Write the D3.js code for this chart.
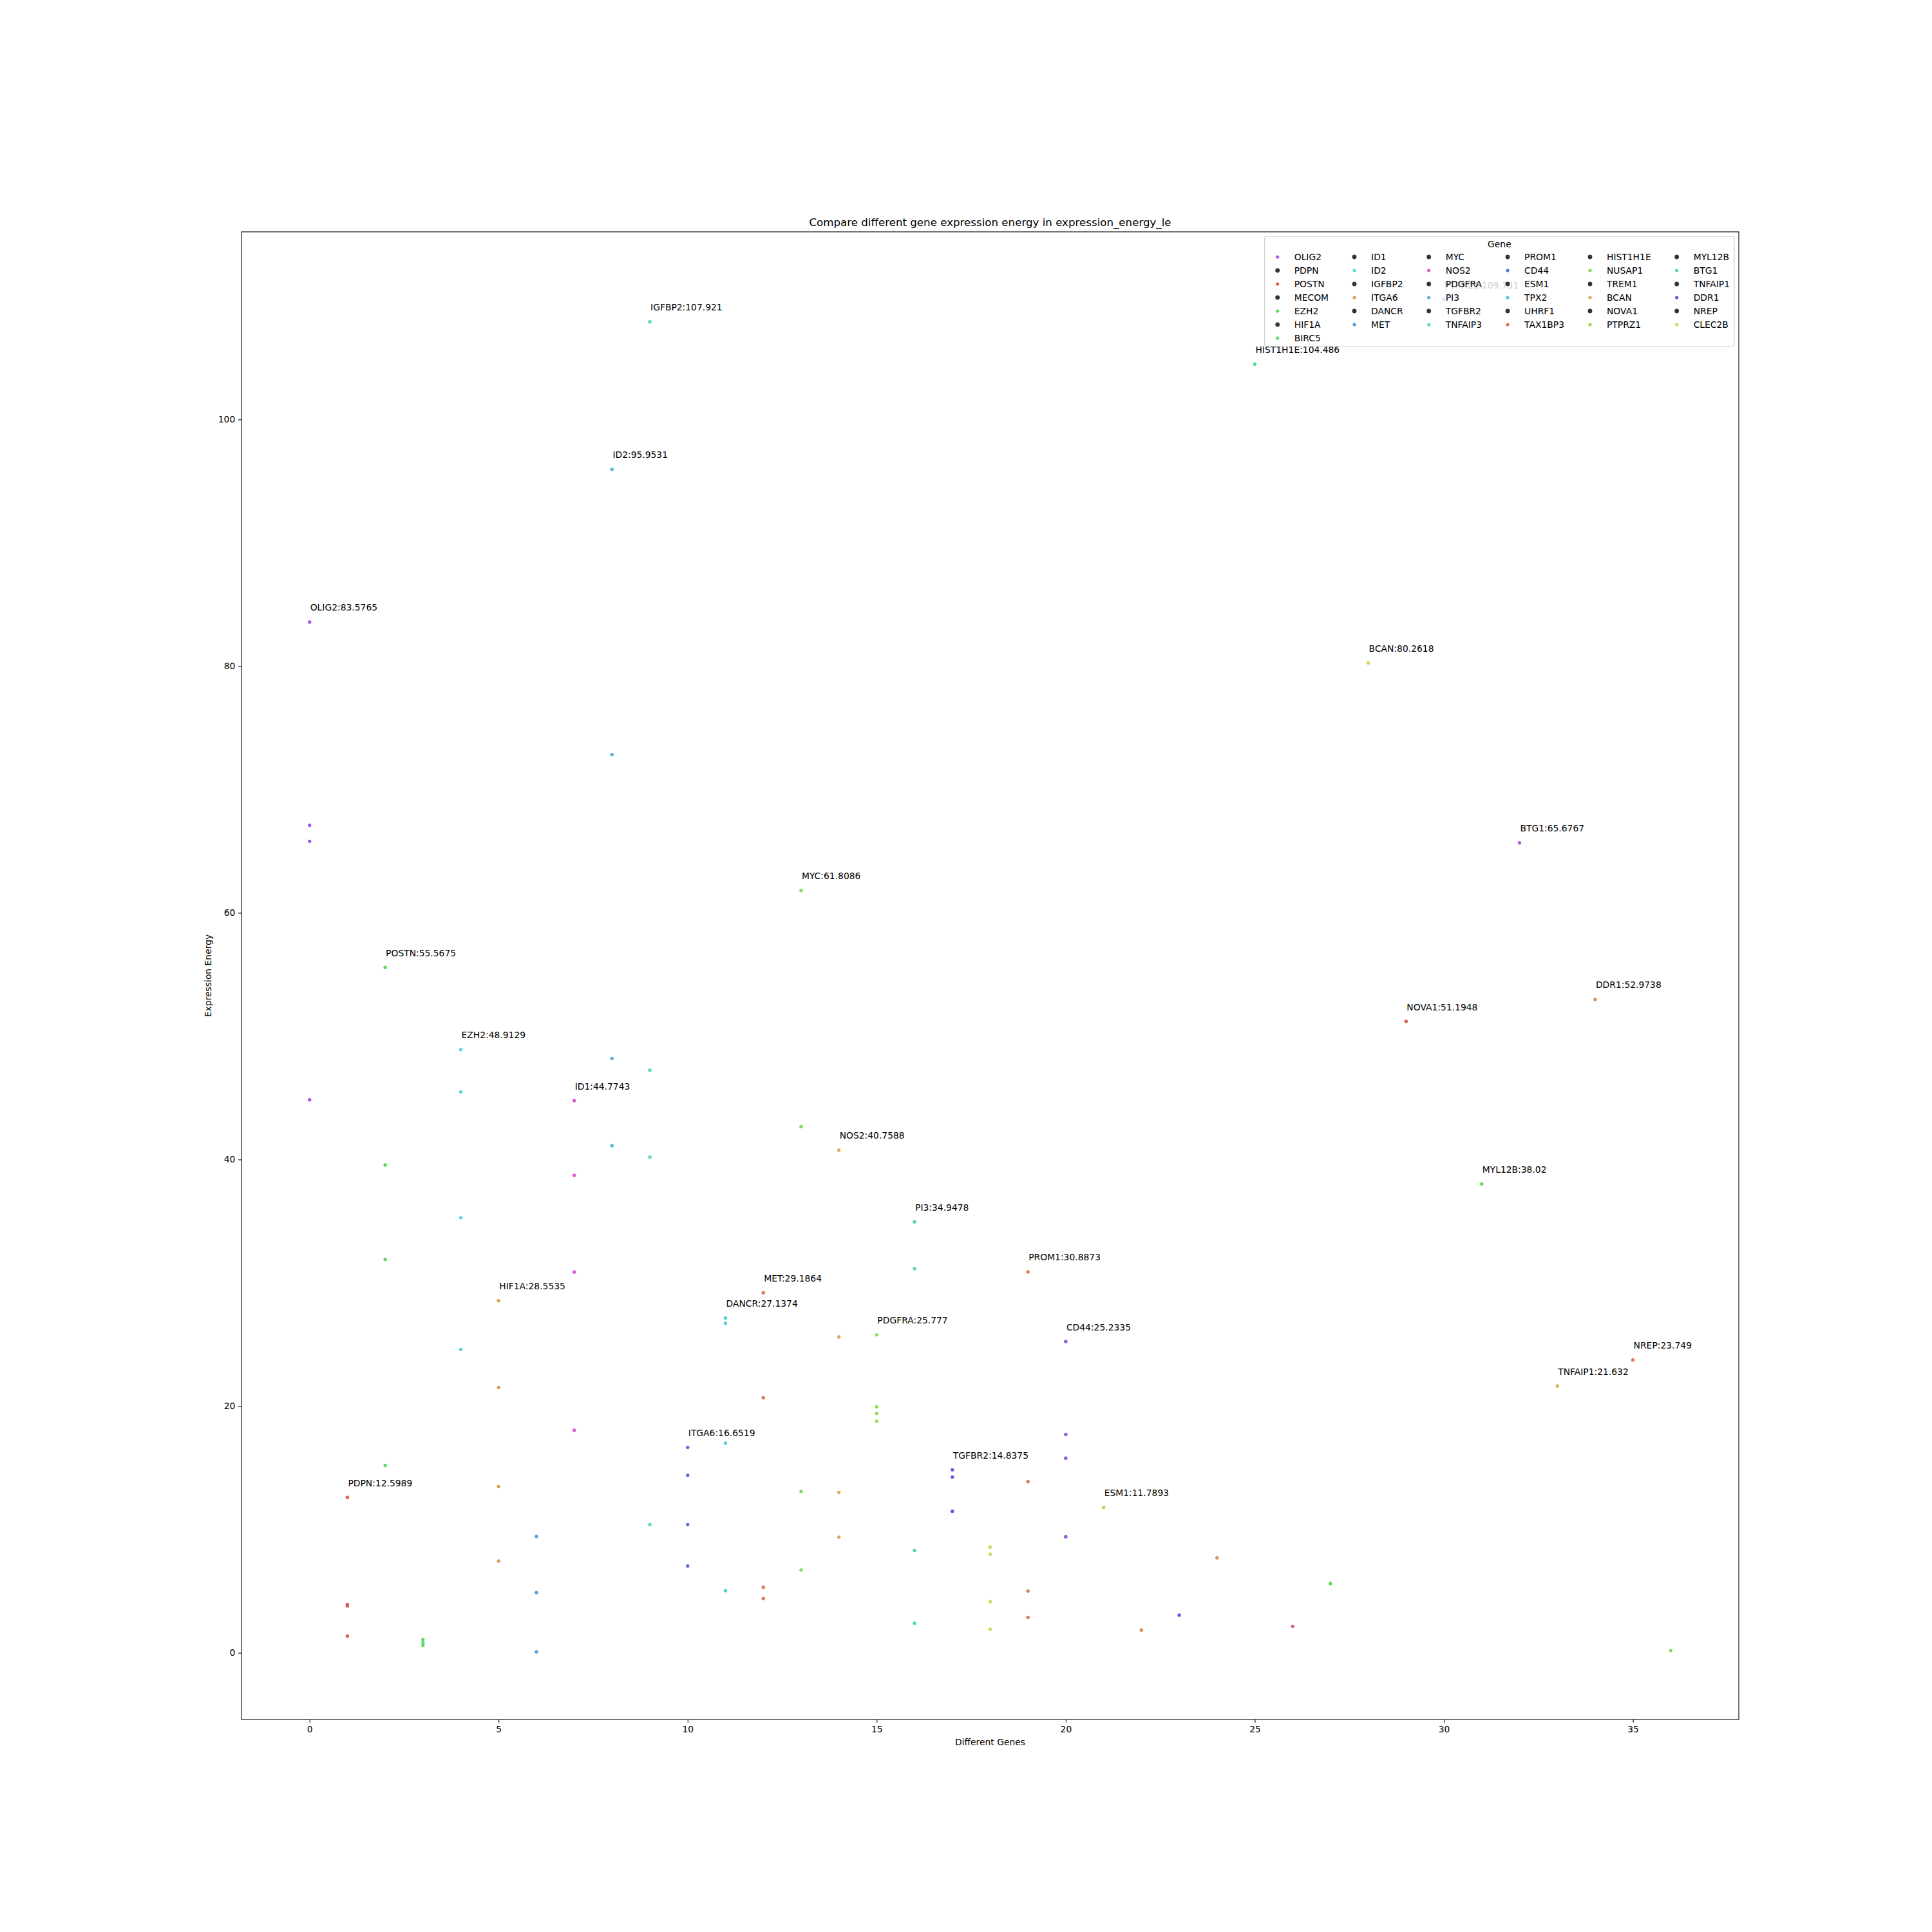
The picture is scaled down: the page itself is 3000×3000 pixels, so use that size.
<!DOCTYPE html>
<html>
<head>
<meta charset="utf-8">
<script src="https://cdn.jsdelivr.net/npm/d3@7"></script>
<style>
  body { margin: 0; background: #fff; }
  svg text { font-family: "DejaVu Sans", sans-serif; }
</style>
</head>
<body>
<svg id="chart" width="3000" height="3000"></svg>
<script>
// ---------------- data ----------------
const genes = ["OLIG2","PDPN","POSTN","MECOM","EZH2","HIF1A","BIRC5","ID1","ID2","IGFBP2",
  "ITGA6","DANCR","MET","MYC","NOS2","PDGFRA","PI3","TGFBR2","TNFAIP3","PROM1","CD44","ESM1",
  "TPX2","UHRF1","TAX1BP3","HIST1H1E","NUSAP1","TREM1","BCAN","NOVA1","PTPRZ1","MYL12B","BTG1",
  "TNFAIP1","DDR1","NREP","CLEC2B"];

// hue (degrees) of each gene's points, seaborn "hls" style palette
const geneHue = [276,3.6,120,132,176,33,208,305,198,169,227,188,16,100,38,91,150,247,68,18,
  266,81,23,237,25,145,344,118,55,2,252,112,286,42,25,18,100];

// legend marker hue per legend entry (null = dark default marker)
const legendHue = [276,null,3.6,null,120,null,132,null,176,null,33,null,208,null,305,null,198,null,
  169,null,227,null,188,null,16,null,100,null,38,null,91,null,150,null,247,null,68];

// each point: gene index and expression energy
const pointGene = [
  0,0,0,0, 1,1,1,1, 2,2,2,2, 3,3,3, 4,4,4,4, 5,5,5,5, 6,6,6, 7,7,7,7, 8,8,8,8, 9,9,9,9,
  10,10,10,10, 11,11,11,11, 12,12,12,12, 13,13,13,13, 14,14,14,14, 15,15,15,15, 16,16,16,16,
  17,17,17, 18,18,18,18, 19,19,19,19, 20,20,20,20, 21, 22, 23, 24, 25, 26, 27, 28, 29, 30,
  31, 32, 33, 34, 35, 36];
const pointEnergy = [
  83.5765,67.1,65.8,44.84,
  12.5989,3.92,3.80,1.36,
  55.5675,39.56,31.9,15.2,
  1.08,0.84,0.6,
  48.9129,45.48,35.28,24.6,
  28.5535,21.52,13.48,7.44,
  9.44,4.88,0.08,
  44.7743,38.72,30.88,18.04,
  95.9531,72.83,48.2,41.12,
  107.921,47.24,40.2,10.4,
  16.6519,14.4,10.4,7.04,
  27.1374,26.72,17.0,5.04,
  29.1864,20.68,5.32,4.4,
  61.8086,42.66,13.08,6.72,
  40.7588,25.61,13.01,9.38,
  25.777,19.95,19.41,18.78,
  34.9478,31.15,8.31,2.41,
  14.8375,14.25,11.48,
  8.58,8.01,4.15,1.91,
  30.8873,13.88,5.01,2.88,
  25.2335,17.71,15.78,9.41,
  11.7893, 1.84, 3.06, 7.70, 104.486, 2.15, 5.62, 80.2618, 51.1948, 109.731,
  38.02, 65.6767, 21.632, 52.9738, 23.749, 0.18];

// genes whose maximum point is annotated "GENE:value"
const labeledGenes = [0,1,2,4,5,7,8,9,10,11,12,13,14,15,16,17,19,20,21,25,28,29,30,31,32,33,34,35];

const xTicks = [0,5,10,15,20,25,30,35];
const yTicks = [0,20,40,60,80,100];

const titleText = "Compare different gene expression energy in expression_energy_le";
const xLabel = "Different Genes";
const yLabel = "Expression Energy";
const legendTitle = "Gene";

// ---------------- layout ----------------
const FS = 13.89;          // 10pt at 100 dpi
const L = 375, R = 2700, T = 360, B = 2670;
const svg = d3.select("#chart");
const colorOf = h => d3.hsl(h, 0.65, 0.6).formatHex();

const points = pointGene.map((g, i) => ({ g, v: pointEnergy[i] }));
const yMin = d3.min(pointEnergy), yMax = d3.max(pointEnergy);
const yPad = (yMax - yMin) * 0.05;
const xPad = (genes.length - 1) * 0.05;

const x = d3.scaleLinear().domain([-xPad, genes.length - 1 + xPad]).range([L, R]);
const y = d3.scaleLinear().domain([yMin - yPad, yMax + yPad]).range([B, T]);

// axes
const tickLen = 4.86, tickPad = 4.86;
const xAxis = svg.append("g").attr("transform", `translate(0,${B})`)
  .call(d3.axisBottom(x).tickValues(xTicks).tickFormat(d3.format("d")).tickSize(tickLen).tickPadding(tickPad));
const yAxis = svg.append("g").attr("transform", `translate(${L},0)`)
  .call(d3.axisLeft(y).tickValues(yTicks).tickFormat(d3.format("d")).tickSize(tickLen).tickPadding(tickPad));
[xAxis, yAxis].forEach(a => {
  a.select(".domain").remove();
  a.selectAll("line").attr("stroke", "#000").attr("stroke-width", 1.1);
  a.selectAll("text").attr("font-size", FS).attr("font-family", "DejaVu Sans").attr("fill", "#000");
});

// frame
svg.append("rect").attr("x", L).attr("y", T).attr("width", R - L).attr("height", B - T)
  .attr("fill", "none").attr("stroke", "#000").attr("stroke-width", 1.1);

// points
svg.append("g").selectAll("circle").data(points).join("circle")
  .attr("cx", d => x(d.g)).attr("cy", d => y(d.v)).attr("r", 2.7)
  .attr("fill", d => colorOf(geneHue[d.g]));

// annotations
const fmt = v => String(+v.toPrecision(6));
const ann = labeledGenes.map(g => {
  const v = d3.max(points.filter(p => p.g === g), p => p.v);
  return { g, v };
});
svg.append("g").selectAll("text").data(ann).join("text")
  .attr("x", d => x(d.g) + 1).attr("y", d => y(d.v) - 17.5)
  .attr("font-size", FS).attr("fill", "#000")
  .text(d => `${genes[d.g]}:${fmt(d.v)}`);

// title and axis labels
svg.append("text").attr("x", (L + R) / 2).attr("y", T - 9).attr("text-anchor", "middle")
  .attr("font-size", 16.67).text(titleText);
svg.append("text").attr("x", (L + R) / 2).attr("y", 2710).attr("text-anchor", "middle")
  .attr("font-size", FS).text(xLabel);
svg.append("text").attr("transform", `translate(328,${(T + B) / 2}) rotate(-90)`)
  .attr("text-anchor", "middle").attr("font-size", FS).text(yLabel);

// legend (matplotlib-style column split: first columns get one extra row)
const nCols = 6, nRows = Math.ceil(genes.length / nCols);
const nLarge = genes.length % nCols || nCols;
const lg = svg.append("g");
const box = lg.append("rect");
const measure = svg.append("text").attr("font-size", FS);
const cols = [];
let start = 0;
for (let c = 0; c < nCols; c++) {
  const n = c < nLarge ? nRows : nRows - 1;
  const items = d3.range(start, Math.min(start + n, genes.length));
  start += n;
  const w = d3.max(items, i => { measure.text(genes[i]); return measure.node().getComputedTextLength(); });
  cols.push({ items, w });
}
measure.remove();
const colGap = 40;
let cx = 20; const colPos = [];
cols.forEach(col => { colPos.push(cx); cx = cx + 26 + col.w + colGap; });
const boxW = colPos[nCols - 1] + 26 + cols[nCols - 1].w + 7;
const boxRight = R - 7, boxTop = T + 7;
const boxLeft = boxRight - boxW;
const rowY0 = boxTop + 32, rowH = 21;
const boxH = 32 + (nRows - 1) * rowH + 13;
box.attr("x", boxLeft).attr("y", boxTop).attr("width", boxW).attr("height", boxH)
  .attr("rx", 3).attr("fill", "#fff").attr("fill-opacity", 0.8)
  .attr("stroke", "#cccccc").attr("stroke-width", 1.1);
lg.append("text").attr("x", boxLeft + boxW / 2).attr("y", boxTop + 17).attr("text-anchor", "middle")
  .attr("font-size", FS).text(legendTitle);
cols.forEach((col, c) => {
  col.items.forEach((i, r) => {
    const mx = boxLeft + colPos[c], my = rowY0 + r * rowH;
    const h = legendHue[i];
    lg.append("circle").attr("cx", mx).attr("cy", my)
      .attr("r", h === null ? 3.4 : 2.6)
      .attr("fill", h === null ? "#333333" : colorOf(h));
    lg.append("text").attr("x", mx + 26).attr("y", my + 5).attr("font-size", FS).text(genes[i]);
  });
});
</script>
</body>
</html>
